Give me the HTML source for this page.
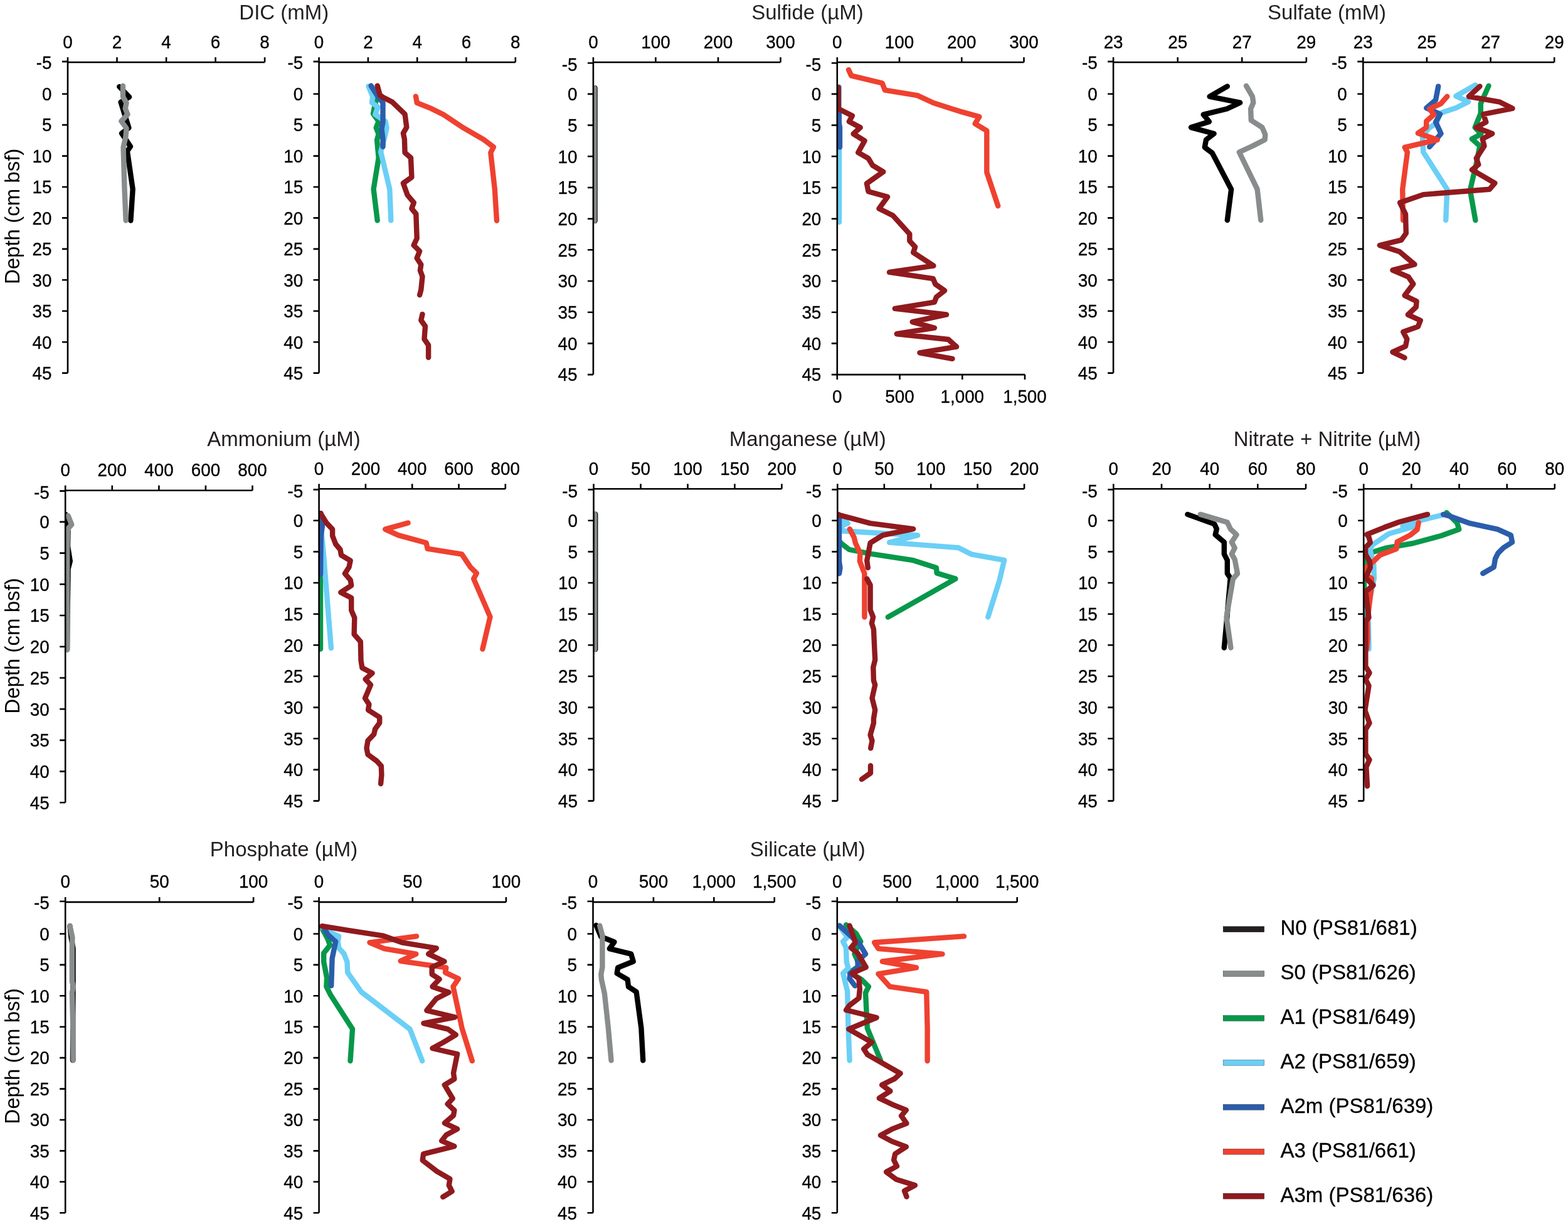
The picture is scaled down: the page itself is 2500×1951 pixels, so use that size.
<!DOCTYPE html><html><head><meta charset="utf-8"><title>Porewater profiles</title><style>html,body{margin:0;padding:0;background:#fff;}svg{display:block;}</style></head><body><svg xmlns="http://www.w3.org/2000/svg" width="2500" height="1951" viewBox="0 0 2500 1951">
<rect width="100%" height="100%" fill="#fff"/>
<g font-family="Liberation Sans, Arial, sans-serif" font-size="33" fill="#231f20" text-anchor="middle">
<text transform="translate(452.8 31.3) scale(1 1.02)">DIC (mM)</text>
<text transform="translate(1287.5 31.3) scale(1 1.02)">Sulfide (µM)</text>
<text transform="translate(2115.5 31.3) scale(1 1.02)">Sulfate (mM)</text>
<text transform="translate(452.5 710.8) scale(1 1.02)">Ammonium (µM)</text>
<text transform="translate(1287.8 710.8) scale(1 1.02)">Manganese (µM)</text>
<text transform="translate(2116.0 710.8) scale(1 1.02)">Nitrate + Nitrite (µM)</text>
<text transform="translate(452.5 1364.8) scale(1 1.02)">Phosphate (µM)</text>
<text transform="translate(1287.8 1364.8) scale(1 1.02)">Silicate (µM)</text>
</g>
<g font-family="Liberation Sans, Arial, sans-serif" font-size="33" fill="#000" text-anchor="middle">
<text transform="translate(31.1 344.9) rotate(-90)" x="0" y="0">Depth (cm bsf)</text>
<text transform="translate(31.1 1029.5) rotate(-90)" x="0" y="0">Depth (cm bsf)</text>
<text transform="translate(31.1 1683.5) rotate(-90)" x="0" y="0">Depth (cm bsf)</text>
</g>
<defs>
<clipPath id="cP1"><rect x="108" y="0" width="2392" height="1951"/></clipPath>
<clipPath id="cP2"><rect x="508.6" y="0" width="1991.4" height="1951"/></clipPath>
<clipPath id="cP3"><rect x="945.9" y="0" width="1554.1" height="1951"/></clipPath>
<clipPath id="cP4"><rect x="1334.8" y="0" width="1165.2" height="1951"/></clipPath>
<clipPath id="cP5"><rect x="1775.1" y="0" width="724.9" height="1951"/></clipPath>
<clipPath id="cP6"><rect x="2173.3" y="0" width="326.7" height="1951"/></clipPath>
<clipPath id="cP7"><rect x="104.2" y="0" width="2395.8" height="1951"/></clipPath>
<clipPath id="cP8"><rect x="508.6" y="0" width="1991.4" height="1951"/></clipPath>
<clipPath id="cP9"><rect x="946.5" y="0" width="1553.5" height="1951"/></clipPath>
<clipPath id="cP10"><rect x="1335.3" y="0" width="1164.7" height="1951"/></clipPath>
<clipPath id="cP11"><rect x="1775.3" y="0" width="724.7" height="1951"/></clipPath>
<clipPath id="cP12"><rect x="2174.2" y="0" width="325.8" height="1951"/></clipPath>
<clipPath id="cP13"><rect x="104.2" y="0" width="2395.8" height="1951"/></clipPath>
<clipPath id="cP14"><rect x="508.6" y="0" width="1991.4" height="1951"/></clipPath>
<clipPath id="cP15"><rect x="945.5" y="0" width="1554.5" height="1951"/></clipPath>
<clipPath id="cP16"><rect x="1334.8" y="0" width="1165.2" height="1951"/></clipPath>
</defs>
<g clip-path="url(#cP1)" fill="none" stroke-width="8.4" stroke-linejoin="round" stroke-linecap="round">
<polyline points="190.3,138.2 206.1,154.6 192.6,162.8 205.4,203.8 194.1,212.6 208,233.5 202.9,241 211.7,301.6 208.4,351.5" stroke="#000"/>
<polyline points="196,136.9 196,154 201.6,164.1 199.7,172.9 203.5,182.4 193.4,193.1 201.6,204.4 200.4,218.3 196.6,234.7 198.5,300 200.7,351.5" stroke="#888c8d"/>
</g>
<g clip-path="url(#cP2)" fill="none" stroke-width="8.4" stroke-linejoin="round" stroke-linecap="round">
<polyline points="601,155.6 597,170.5 595,181.3 603.7,193.4 599.7,203.6 603.7,213.7 601,223.1 603.7,251.5 595.6,301.4 601.7,351.4" stroke="#07984a"/>
<polyline points="587.5,137.4 594.3,154.3 593,163.7 602.4,170.5 598.3,182.6 614.5,193.4 616.6,203.6 613.2,219.1 607.1,242 621.3,301.4 623.3,351.4" stroke="#6bcff6"/>
<polyline points="591.6,136.7 601,151.6 610.5,163.7 610.5,194.8 608.5,205.6 610.5,221.8 610.5,233.9" stroke="#2b5dab"/>
<polyline points="662.9,153.6 664.8,163.9 687.4,172.9 706.8,182.6 739.1,203.9 771.4,222.6 786.9,234.3 782.3,243.3 788.8,301.4 792,351.7" stroke="#ef4130"/>
<polyline points="601.7,136.7 605.8,151.6 610.5,155 625.3,162.4 645.6,182 648.3,202.9 642.9,212.3 644.9,221.8 645.6,243.4 655,251.5 656.4,282.5 642.9,292 649.6,310.9 659.8,323 656.4,332.5 663.3,341 664.7,379.9 659.6,390.9 669.1,400.4 664.7,411.4 671.3,421.7 669.9,431.2 673.5,440.8 671.3,462 669.1,470.1" stroke="#901a1e"/>
<polyline points="673.5,500.9 671.3,510.5 678,520 676.5,540.5 683.1,550.1 683.1,569.9" stroke="#901a1e"/>
</g>
<g clip-path="url(#cP3)" fill="none" stroke-width="8.4" stroke-linejoin="round" stroke-linecap="round">
<polyline points="948.5,140.2 948.5,352" stroke="#000"/>
<polyline points="947.4,140.2 947.4,352" stroke="#888c8d"/>
</g>
<g clip-path="url(#cP4)" fill="none" stroke-width="8.4" stroke-linejoin="round" stroke-linecap="round">
<polyline points="1338,138.5 1338,354" stroke="#6bcff6"/>
<polyline points="1337.7,178.5 1337.7,196 1339,203 1339,234.6" stroke="#2b5dab"/>
<polyline points="1353,111.3 1357.2,120.6 1406.6,132.5 1410.8,143.6 1462.7,152.1 1488.2,164 1530.8,177.6 1561.4,186.1 1554.6,197.2 1573.3,208.3 1573.3,274.6 1591.2,328.2" stroke="#ef4130"/>
<polyline points="1336.8,139.3 1336.8,173.4 1358.9,184.4 1353.8,193.8 1371.7,203.2 1360.6,213.4 1378.5,224.4 1368.3,243.1 1384.5,252.5 1391.3,263.6 1408.3,273.8 1381.9,292.5 1384.5,305.2 1415.1,313.8 1401.5,332.5 1423.6,343.5 1450.3,373 1450.3,384 1459.1,393.6 1456.2,402.4 1488.4,423.6 1418,433.9 1487.7,444.2 1491.4,453 1506.1,463.2 1492.9,473.5 1489.9,481.6 1426.8,491.8 1509,501.4 1454.7,513.1 1489.9,522.7 1429.8,532.2 1511.9,541 1525.1,552.7 1466.4,562.3 1518.5,571.8" stroke="#901a1e"/>
</g>
<g clip-path="url(#cP5)" fill="none" stroke-width="8.4" stroke-linejoin="round" stroke-linecap="round">
<polyline points="1956.8,137.6 1928.6,153.8 1977.2,163.7 1956.1,173.5 1918.7,182.7 1927.9,193.9 1899,203.1 1935.6,213 1923,222.8 1920.8,234.8 1932.8,243.9 1963.1,301.7 1956.8,351" stroke="#000"/>
<polyline points="1987,136.9 1996.9,153.8 1998.3,163.7 1994.1,173.5 1994.8,191.8 2012.4,203.1 2017.3,214.4 2016.6,222.8 1996.9,232.7 1975.8,242.5 2004.6,301.7 2010.3,351" stroke="#888c8d"/>
</g>
<g clip-path="url(#cP6)" fill="none" stroke-width="8.4" stroke-linejoin="round" stroke-linecap="round">
<polyline points="2373.5,136.9 2360.8,165.1 2360.8,180.6 2351.7,203.1 2361.5,213.7 2346.8,221.4 2359.4,232.7 2353.8,260.8 2343.9,303.1 2352.4,351" stroke="#07984a"/>
<polyline points="2352.4,135.5 2321.4,153.1 2341.1,162.3 2321.4,172.1 2296.1,180.6 2290.4,196.1 2277.7,204.5 2267.9,218.6 2269.3,242.5 2307.3,301.7 2305.2,351" stroke="#6bcff6"/>
<polyline points="2293.2,137.6 2289,159.4 2274.2,172.1 2296.1,182 2289,194.6 2297.5,213 2279.2,234.1" stroke="#2b5dab"/>
<polyline points="2307.3,153.8 2297.5,165.1 2279.2,173.5 2286.2,182.7 2274.2,193.2 2274.2,203.1 2260.8,212.3 2291.8,222.8 2239.7,234.8 2243.9,242.5 2236.2,301.7 2237,351" stroke="#ef4130"/>
<polyline points="2359.4,137.6 2341.8,153.8 2390.4,162.3 2411.5,172.8 2365.1,182 2369.3,194.6 2353.8,203.1 2379.2,213 2363.7,221.4 2366.5,232.7 2353.8,252.4 2357.3,262.3 2346.8,270.7 2383.4,291.8 2374.9,301.7 2269.3,310.1 2232,323 2241,341.4 2241.8,371.9 2234.2,382.6 2199.8,391 2231.1,400.9 2255.5,421.5 2220.4,430.6 2245.6,441.3 2253.2,452.7 2239.5,471 2258.6,480.2 2257.8,489.4 2244.8,501.6 2264.7,510.7 2260.9,520.6 2237.2,529 2243.3,540.5 2241,551.9 2220.4,561.1 2239.5,570.2" stroke="#901a1e"/>
</g>
<g clip-path="url(#cP7)" fill="none" stroke-width="8.4" stroke-linejoin="round" stroke-linecap="round">
<polyline points="104.5,820 105.5,834.6 108.5,846.6 108,870.6 111.8,894.5 108.5,907.2 108.5,917 107.5,979 107,1035.4" stroke="#000"/>
<polyline points="108.6,822 114.2,836.1 107.9,843.1 107.2,880.4 107.2,1035.4" stroke="#888c8d"/>
</g>
<g clip-path="url(#cP8)" fill="none" stroke-width="8.4" stroke-linejoin="round" stroke-linecap="round">
<polyline points="511,822 511,1034.5" stroke="#07984a"/>
<polyline points="511,820 512.5,846.7 516.1,886.3 527.9,1033" stroke="#6bcff6"/>
<polyline points="511.7,818.1 513.9,839.3 511.7,854 511,915.6" stroke="#2b5dab"/>
<polyline points="650.6,833.5 614.2,843.6 635.1,853.1 679.6,865.2 681.6,874.7 736.3,883.4 749.8,903.7 759.9,913.8 755.2,922.6 781.5,983.3 769.4,1034.6" stroke="#ef4130"/>
<polyline points="511,818.1 520.5,833.5 530.1,843.7 530.1,854 535.2,867.2 542.5,876 544,884.8 558.7,893.6 556.5,903.9 549.9,914.2 558.7,924.4 560.2,933.2 543.3,944.2 560.2,953 560.2,972.9 565.3,984.6 564.6,1011 574.8,1022.7 575.5,1052.9 577.4,1064.5 593.6,1072.9 582.6,1082.6 591,1091.6 582,1113 588.4,1122.6 587.1,1131.7 605.2,1143.3 605.2,1152.3 598.1,1162 596.2,1170.4 586.5,1180.7 584.5,1192.4 586.5,1202.7 600.7,1213 607.8,1220.8 608.4,1235 607.1,1249.2" stroke="#901a1e"/>
</g>
<g clip-path="url(#cP9)" fill="none" stroke-width="8.4" stroke-linejoin="round" stroke-linecap="round">
<polyline points="949.2,819.8 949.2,1035" stroke="#000"/>
<polyline points="948,819.8 948,1035" stroke="#888c8d"/>
</g>
<g clip-path="url(#cP10)" fill="none" stroke-width="8.4" stroke-linejoin="round" stroke-linecap="round">
<polyline points="1337,820 1337,860 1340.3,865.4 1354,876 1389.1,882.9 1454.7,892.8 1492.9,905 1493.6,913.4 1523.4,922.6 1415.8,983.6" stroke="#07984a"/>
<polyline points="1337,822 1340.3,826.4 1351.7,834.1 1342.5,837.9 1341.8,846.3 1463.1,853.2 1418.1,864.6 1528,873 1549.3,883.7 1601.2,892.8 1593.6,924.9 1575.3,983.6" stroke="#6bcff6"/>
<polyline points="1338,822 1338,895 1339.5,905 1338,914.2" stroke="#2b5dab"/>
<polyline points="1354.8,843.2 1361.6,856.2 1363.9,865.4 1371.5,882.1 1370.8,894.4 1378.4,914.2 1378.4,983.6" stroke="#ef4130"/>
<polyline points="1335.7,820.3 1387.6,834.1 1456.2,843.2 1407.4,853.2 1387.6,865.4 1382.2,893.6 1383.8,905" stroke="#901a1e"/>
<polyline points="1382.2,922.6 1387.6,932.5 1387.6,972.2 1392.1,983.6 1389.9,993.5 1392.9,1002.7 1394.6,1040 1395.2,1051.7 1392.3,1063.5 1392.9,1084.6 1395.2,1091.6 1390.5,1112.8 1395.2,1131.5 1392.9,1145.6 1392.9,1152.7 1387.6,1171.5 1390.5,1180.8 1388.2,1192.6" stroke="#901a1e"/>
<polyline points="1388,1220.5 1388,1232.2 1373.9,1242.1" stroke="#901a1e"/>
</g>
<g clip-path="url(#cP11)" fill="none" stroke-width="8.4" stroke-linejoin="round" stroke-linecap="round">
<polyline points="1893.4,819.9 1936.3,835.4 1939.9,843.1 1937.7,852.3 1951.8,864.2 1951.8,883.2 1956.8,893.1 1956.8,914.2 1961.7,921.3 1956.1,986.1 1951.8,1032.5" stroke="#000"/>
<polyline points="1913.8,819.9 1956.8,832.5 1961.7,843.1 1971.5,852.3 1963.8,864.2 1968.7,873.4 1963.8,883.2 1968.7,891.7 1973,914.2 1965.9,922.7 1955.4,983.9 1962.4,1032.5" stroke="#888c8d"/>
</g>
<g clip-path="url(#cP12)" fill="none" stroke-width="8.4" stroke-linejoin="round" stroke-linecap="round">
<polyline points="2306.4,817.3 2323.2,833.4 2326.2,843.7 2297.6,854 2252.9,866 2209,873.7 2188.1,880.3 2176,893.5 2175,930.9 2175,1034" stroke="#07984a"/>
<polyline points="2299.1,821 2263.9,829.8 2236.4,838.6 2252.9,839.7 2214.5,850.7 2187,869.3 2184.8,878.1 2190.3,900.1 2190.8,922.1 2186,945 2180.5,972 2182,1000 2182.5,1034.5" stroke="#6bcff6"/>
<polyline points="2301.2,819.9 2310.8,822.5 2343.7,834.2 2387.7,843.7 2408.9,853.2 2411.1,864.2 2397.2,873 2388.4,881.8 2384,890.6 2381.8,903.8 2364.2,914" stroke="#2b5dab"/>
<polyline points="2261.7,833.1 2259.5,844.1 2248.5,852.9 2227.6,863.8 2226.5,874.8 2200.2,884.7 2191.4,893.5 2177.1,905.6 2176,915.5 2187,922.1 2185.9,941.9 2184.8,950.7 2180,990 2180.5,1019 2179,1034" stroke="#ef4130"/>
<polyline points="2276,819.9 2230.9,832 2206.8,840.8 2179.3,851.8 2182.6,856.2 2184.8,864.9 2177.1,872.6 2177.1,883.6 2183.7,894.6 2184.8,904.5 2177.1,921 2189.6,932.9 2177.3,943.1 2182.5,984.2 2177.3,990.4 2177.3,1062.3 2183.5,1072.5 2177.3,1082.8 2182.5,1093.1 2176.3,1132.1 2183.5,1152.6 2177.3,1162.9 2177.3,1201.9 2183.5,1211.1 2178.3,1222.4 2180,1253" stroke="#901a1e"/>
</g>
<g clip-path="url(#cP13)" fill="none" stroke-width="8.4" stroke-linejoin="round" stroke-linecap="round">
<polyline points="111.5,1476 113.5,1494 116.5,1512 116.5,1570 116.2,1632 116,1690" stroke="#000"/>
<polyline points="111.5,1476.1 115.5,1494.3 114.9,1509.1 114.9,1564.5 116.9,1572.6 114.9,1582 116.2,1632 116.9,1690" stroke="#888c8d"/>
</g>
<g clip-path="url(#cP14)" fill="none" stroke-width="8.4" stroke-linejoin="round" stroke-linecap="round">
<polyline points="512.7,1478.3 522.5,1496.6 526.1,1506.5 521.8,1512.1 516.2,1519.2 516.2,1533.2 521.1,1558.6 520.4,1572.7 526.8,1585.4 562,1640.3 558.5,1691" stroke="#07984a"/>
<polyline points="514.1,1478.3 527.5,1486.8 540.1,1492.4 538.7,1500.8 540.1,1510.7 548.6,1520.6 553.5,1533.2 554.2,1550.1 576.1,1581.1 653.5,1640.3 673.2,1691" stroke="#6bcff6"/>
<polyline points="515.5,1476.9 522.5,1489.6 535.2,1500.8 529.6,1527.6 528.2,1571.3" stroke="#2b5dab"/>
<polyline points="664.1,1492.4 589.4,1502.3 612.7,1512.1 663.4,1520.6 638.7,1531.8 711.3,1542.4 709.9,1550.1 731,1560 722.5,1572.7 736.6,1638.9 752.8,1691" stroke="#ef4130"/>
<polyline points="513.4,1476.2 556.3,1483.2 611.3,1491.7 640.8,1502.3 695.8,1511.4 683.1,1520.6 708.5,1532.5 688.7,1541.7 688.7,1553 700.7,1560.7 689.4,1572.7 715.5,1581.8 695.8,1591.7 680.3,1610.7 725.4,1621.3 675.4,1631.1 714.1,1640.3 726.8,1649.4 707,1661.4 689.5,1671 729.1,1680.1 723,1710.5 724.4,1719.9 708.8,1729.4 721.7,1751 713.6,1759.8 724.4,1769.9 723,1778 708.8,1790.1 729.1,1799.6 711.5,1809 704.1,1818.5 724.4,1827.2 675.1,1839.4 673.7,1849.5 696.7,1867.1 717.4,1879.2 715.8,1889.4 720.6,1899 706.2,1907.8" stroke="#901a1e"/>
</g>
<g clip-path="url(#cP15)" fill="none" stroke-width="8.4" stroke-linejoin="round" stroke-linecap="round">
<polyline points="950.6,1474.8 958.3,1493.1 979.4,1501.5 971.7,1512.1 1006.2,1520.6 1009.7,1532.5 985.1,1542.4 983.7,1551.5 1000.6,1561.4 1002,1572.7 1014.6,1581.1 1022.4,1638.9 1025.2,1690.3" stroke="#000"/>
<polyline points="956.2,1475.5 960.4,1491 960.4,1541.7 958.3,1553 959,1561.4 963.9,1583.9 969.6,1636.1 974.5,1690.3" stroke="#888c8d"/>
</g>
<g clip-path="url(#cP16)" fill="none" stroke-width="8.4" stroke-linejoin="round" stroke-linecap="round">
<polyline points="1349,1474.1 1365.2,1488.2 1372.3,1500.8 1365.2,1513.5 1362.4,1520.6 1370.8,1538.9 1354.6,1550.1 1373.7,1561.4 1384.9,1572.7 1380,1582.5 1382.8,1638.9 1404,1690" stroke="#07984a"/>
<polyline points="1337.7,1475.5 1351.1,1493.8 1344.1,1500.8 1349,1510.7 1349.7,1533.2 1352.5,1543.1 1344.1,1551.5 1351.1,1579.7 1352.5,1638.9 1354.6,1690.3" stroke="#6bcff6"/>
<polyline points="1338.5,1475.5 1351.1,1486.8 1370.8,1505.1 1380,1520.6 1367.3,1531.8 1368,1541.7 1355.4,1551.5 1354.6,1560 1363.1,1571.3" stroke="#2b5dab"/>
<polyline points="1537,1492.4 1394.1,1502.3 1400.4,1512.1 1502.5,1520.6 1406.8,1532.5 1461,1542.4 1400.4,1552.3 1418.7,1572.7 1477.2,1581.1 1478.6,1638.9 1478.6,1691" stroke="#ef4130"/>
<polyline points="1354.6,1475.5 1363.8,1502.3 1356.8,1510.7 1367.3,1519.2 1380.7,1541.7 1358.2,1551.5 1369.4,1560 1370.8,1576.9 1369.4,1591 1354.6,1602.3 1349,1610 1397.6,1622 1353.2,1640.3 1389.9,1661.4 1377.2,1672 1383.2,1681.2 1435.6,1711 1426.5,1719.4 1406.1,1729.3 1419.4,1739.2 1401.8,1750.4 1422.3,1760.3 1444.8,1769.4 1437,1778.6 1445.5,1790.6 1422.3,1799.7 1403.9,1809.6 1422.3,1819.4 1444.8,1827.9 1427.2,1839.2 1425.1,1849 1430,1858.9 1413.1,1868 1429.3,1880 1458.9,1889.2 1442,1898.3 1445.5,1907.5" stroke="#901a1e"/>
</g>
<path d="M108 91.2V594.6M108 99.2H422.1M99 98.1H108M99 149.7H108M99 199.1H108M99 248.6H108M99 298H108M99 347.4H108M99 396.9H108M99 446.3H108M99 495.7H108M99 545.2H108M99 594.6H108M186.5 91.2V99.2M265.1 91.2V99.2M343.6 91.2V99.2M422.1 91.2V99.2M508.6 91.2V594.6M508.6 99.2H821.8M499.6 98.1H508.6M499.6 149.7H508.6M499.6 199.1H508.6M499.6 248.6H508.6M499.6 298H508.6M499.6 347.4H508.6M499.6 396.9H508.6M499.6 446.3H508.6M499.6 495.7H508.6M499.6 545.2H508.6M499.6 594.6H508.6M586.9 91.2V99.2M665.2 91.2V99.2M743.5 91.2V99.2M821.8 91.2V99.2M945.9 91.3V597.1M945.9 99.3H1244.5M936.9 100.5H945.9M936.9 149.9H945.9M936.9 199.6H945.9M936.9 249.3H945.9M936.9 299H945.9M936.9 348.7H945.9M936.9 398.3H945.9M936.9 448H945.9M936.9 497.7H945.9M936.9 547.4H945.9M936.9 597.1H945.9M1045.4 91.3V99.3M1145 91.3V99.3M1244.5 91.3V99.3M1334.8 91.3V597.1M1334.8 99.3H1632.5M1325.8 100.5H1334.8M1325.8 149.9H1334.8M1325.8 199.6H1334.8M1325.8 249.3H1334.8M1325.8 299H1334.8M1325.8 348.7H1334.8M1325.8 398.3H1334.8M1325.8 448H1334.8M1325.8 497.7H1334.8M1325.8 547.4H1334.8M1325.8 597.1H1334.8M1434 91.3V99.3M1533.3 91.3V99.3M1632.5 91.3V99.3M1334.8 597.1H1634M1334.8 597.1V605.1M1434.5 597.1V605.1M1534.3 597.1V605.1M1634 597.1V605.1M1775.1 91.2V594.6M1775.1 99.2H2082.8M1766.1 98.1H1775.1M1766.1 149.7H1775.1M1766.1 199.1H1775.1M1766.1 248.6H1775.1M1766.1 298H1775.1M1766.1 347.4H1775.1M1766.1 396.9H1775.1M1766.1 446.3H1775.1M1766.1 495.7H1775.1M1766.1 545.2H1775.1M1766.1 594.6H1775.1M1877.7 91.2V99.2M1980.2 91.2V99.2M2082.8 91.2V99.2M2173.3 91.2V594.6M2173.3 99.2H2478.2M2164.3 98.1H2173.3M2164.3 149.7H2173.3M2164.3 199.1H2173.3M2164.3 248.6H2173.3M2164.3 298H2173.3M2164.3 347.4H2173.3M2164.3 396.9H2173.3M2164.3 446.3H2173.3M2164.3 495.7H2173.3M2164.3 545.2H2173.3M2164.3 594.6H2173.3M2274.9 91.2V99.2M2376.6 91.2V99.2M2478.2 91.2V99.2M104.2 773.7V1279.3M104.2 781.7H402.5M95.2 782.6H104.2M95.2 831.9H104.2M95.2 881.6H104.2M95.2 931.3H104.2M95.2 981H104.2M95.2 1030.7H104.2M95.2 1080.5H104.2M95.2 1130.2H104.2M95.2 1179.9H104.2M95.2 1229.6H104.2M95.2 1279.3H104.2M178.8 773.7V781.7M253.4 773.7V781.7M327.9 773.7V781.7M402.5 773.7V781.7M508.6 771.3V1276.6M508.6 779.3H805.8M499.6 780.4H508.6M499.6 829.7H508.6M499.6 879.4H508.6M499.6 929H508.6M499.6 978.7H508.6M499.6 1028.3H508.6M499.6 1078H508.6M499.6 1127.6H508.6M499.6 1177.3H508.6M499.6 1226.9H508.6M499.6 1276.6H508.6M582.9 771.3V779.3M657.2 771.3V779.3M731.5 771.3V779.3M805.8 771.3V779.3M946.5 771.3V1276.6M946.5 779.3H1246.4M937.5 780.4H946.5M937.5 829.7H946.5M937.5 879.4H946.5M937.5 929H946.5M937.5 978.7H946.5M937.5 1028.3H946.5M937.5 1078H946.5M937.5 1127.6H946.5M937.5 1177.3H946.5M937.5 1226.9H946.5M937.5 1276.6H946.5M1021.5 771.3V779.3M1096.5 771.3V779.3M1171.4 771.3V779.3M1246.4 771.3V779.3M1335.3 771.3V1276.6M1335.3 779.3H1633.1M1326.3 780.4H1335.3M1326.3 829.7H1335.3M1326.3 879.4H1335.3M1326.3 929H1335.3M1326.3 978.7H1335.3M1326.3 1028.3H1335.3M1326.3 1078H1335.3M1326.3 1127.6H1335.3M1326.3 1177.3H1335.3M1326.3 1226.9H1335.3M1326.3 1276.6H1335.3M1409.8 771.3V779.3M1484.2 771.3V779.3M1558.6 771.3V779.3M1633.1 771.3V779.3M1775.3 771.3V1276.6M1775.3 779.3H2082M1766.3 780.4H1775.3M1766.3 829.7H1775.3M1766.3 879.4H1775.3M1766.3 929H1775.3M1766.3 978.7H1775.3M1766.3 1028.3H1775.3M1766.3 1078H1775.3M1766.3 1127.6H1775.3M1766.3 1177.3H1775.3M1766.3 1226.9H1775.3M1766.3 1276.6H1775.3M1852 771.3V779.3M1928.7 771.3V779.3M2005.3 771.3V779.3M2082 771.3V779.3M2174.2 771.3V1276.6M2174.2 779.3H2478.8M2165.2 780.4H2174.2M2165.2 829.7H2174.2M2165.2 879.4H2174.2M2165.2 929H2174.2M2165.2 978.7H2174.2M2165.2 1028.3H2174.2M2165.2 1078H2174.2M2165.2 1127.6H2174.2M2165.2 1177.3H2174.2M2165.2 1226.9H2174.2M2165.2 1276.6H2174.2M2250.3 771.3V779.3M2326.5 771.3V779.3M2402.7 771.3V779.3M2478.8 771.3V779.3M104.2 1429.9V1933.2M104.2 1437.9H404.1M95.2 1436.7H104.2M95.2 1488.5H104.2M95.2 1537.9H104.2M95.2 1587.3H104.2M95.2 1636.7H104.2M95.2 1686.1H104.2M95.2 1735.6H104.2M95.2 1785H104.2M95.2 1834.4H104.2M95.2 1883.8H104.2M95.2 1933.2H104.2M254.2 1429.9V1437.9M404.1 1429.9V1437.9M508.6 1429.9V1933.2M508.6 1437.9H806.9M499.6 1436.7H508.6M499.6 1488.5H508.6M499.6 1537.9H508.6M499.6 1587.3H508.6M499.6 1636.7H508.6M499.6 1686.1H508.6M499.6 1735.6H508.6M499.6 1785H508.6M499.6 1834.4H508.6M499.6 1883.8H508.6M499.6 1933.2H508.6M657.8 1429.9V1437.9M806.9 1429.9V1437.9M945.5 1429.9V1933.2M945.5 1437.9H1234.7M936.5 1436.7H945.5M936.5 1488.5H945.5M936.5 1537.9H945.5M936.5 1587.3H945.5M936.5 1636.7H945.5M936.5 1686.1H945.5M936.5 1735.6H945.5M936.5 1785H945.5M936.5 1834.4H945.5M936.5 1883.8H945.5M936.5 1933.2H945.5M1041.9 1429.9V1437.9M1138.3 1429.9V1437.9M1234.7 1429.9V1437.9M1334.8 1429.9V1933.2M1334.8 1437.9H1621.7M1325.8 1436.7H1334.8M1325.8 1488.5H1334.8M1325.8 1537.9H1334.8M1325.8 1587.3H1334.8M1325.8 1636.7H1334.8M1325.8 1686.1H1334.8M1325.8 1735.6H1334.8M1325.8 1785H1334.8M1325.8 1834.4H1334.8M1325.8 1883.8H1334.8M1325.8 1933.2H1334.8M1430.4 1429.9V1437.9M1526.1 1429.9V1437.9M1621.7 1429.9V1437.9" fill="none" stroke="#000" stroke-width="2.6" stroke-linecap="butt"/>
<g font-family="Liberation Sans, Arial, sans-serif" font-size="27.8" fill="#000" stroke="#000" stroke-width="0.3">
<text transform="translate(82.5 110.2) scale(1 1.04)" text-anchor="end">-5</text>
<text transform="translate(82.5 160) scale(1 1.04)" text-anchor="end">0</text>
<text transform="translate(82.5 209.4) scale(1 1.04)" text-anchor="end">5</text>
<text transform="translate(82.5 258.9) scale(1 1.04)" text-anchor="end">10</text>
<text transform="translate(82.5 308.3) scale(1 1.04)" text-anchor="end">15</text>
<text transform="translate(82.5 357.7) scale(1 1.04)" text-anchor="end">20</text>
<text transform="translate(82.5 407.2) scale(1 1.04)" text-anchor="end">25</text>
<text transform="translate(82.5 456.6) scale(1 1.04)" text-anchor="end">30</text>
<text transform="translate(82.5 506) scale(1 1.04)" text-anchor="end">35</text>
<text transform="translate(82.5 555.5) scale(1 1.04)" text-anchor="end">40</text>
<text transform="translate(82.5 604.9) scale(1 1.04)" text-anchor="end">45</text>
<text transform="translate(108 76.7) scale(1 1.04)" text-anchor="middle">0</text>
<text transform="translate(186.5 76.7) scale(1 1.04)" text-anchor="middle">2</text>
<text transform="translate(265.1 76.7) scale(1 1.04)" text-anchor="middle">4</text>
<text transform="translate(343.6 76.7) scale(1 1.04)" text-anchor="middle">6</text>
<text transform="translate(422.1 76.7) scale(1 1.04)" text-anchor="middle">8</text>
<text transform="translate(483.1 110.2) scale(1 1.04)" text-anchor="end">-5</text>
<text transform="translate(483.1 160) scale(1 1.04)" text-anchor="end">0</text>
<text transform="translate(483.1 209.4) scale(1 1.04)" text-anchor="end">5</text>
<text transform="translate(483.1 258.9) scale(1 1.04)" text-anchor="end">10</text>
<text transform="translate(483.1 308.3) scale(1 1.04)" text-anchor="end">15</text>
<text transform="translate(483.1 357.7) scale(1 1.04)" text-anchor="end">20</text>
<text transform="translate(483.1 407.2) scale(1 1.04)" text-anchor="end">25</text>
<text transform="translate(483.1 456.6) scale(1 1.04)" text-anchor="end">30</text>
<text transform="translate(483.1 506) scale(1 1.04)" text-anchor="end">35</text>
<text transform="translate(483.1 555.5) scale(1 1.04)" text-anchor="end">40</text>
<text transform="translate(483.1 604.9) scale(1 1.04)" text-anchor="end">45</text>
<text transform="translate(508.6 76.7) scale(1 1.04)" text-anchor="middle">0</text>
<text transform="translate(586.9 76.7) scale(1 1.04)" text-anchor="middle">2</text>
<text transform="translate(665.2 76.7) scale(1 1.04)" text-anchor="middle">4</text>
<text transform="translate(743.5 76.7) scale(1 1.04)" text-anchor="middle">6</text>
<text transform="translate(821.8 76.7) scale(1 1.04)" text-anchor="middle">8</text>
<text transform="translate(920.4 112.6) scale(1 1.04)" text-anchor="end">-5</text>
<text transform="translate(920.4 160.2) scale(1 1.04)" text-anchor="end">0</text>
<text transform="translate(920.4 209.9) scale(1 1.04)" text-anchor="end">5</text>
<text transform="translate(920.4 259.6) scale(1 1.04)" text-anchor="end">10</text>
<text transform="translate(920.4 309.3) scale(1 1.04)" text-anchor="end">15</text>
<text transform="translate(920.4 359) scale(1 1.04)" text-anchor="end">20</text>
<text transform="translate(920.4 408.6) scale(1 1.04)" text-anchor="end">25</text>
<text transform="translate(920.4 458.3) scale(1 1.04)" text-anchor="end">30</text>
<text transform="translate(920.4 508) scale(1 1.04)" text-anchor="end">35</text>
<text transform="translate(920.4 557.7) scale(1 1.04)" text-anchor="end">40</text>
<text transform="translate(920.4 607.4) scale(1 1.04)" text-anchor="end">45</text>
<text transform="translate(945.9 76.8) scale(1 1.04)" text-anchor="middle">0</text>
<text transform="translate(1045.4 76.8) scale(1 1.04)" text-anchor="middle">100</text>
<text transform="translate(1145 76.8) scale(1 1.04)" text-anchor="middle">200</text>
<text transform="translate(1244.5 76.8) scale(1 1.04)" text-anchor="middle">300</text>
<text transform="translate(1309.3 112.6) scale(1 1.04)" text-anchor="end">-5</text>
<text transform="translate(1309.3 160.2) scale(1 1.04)" text-anchor="end">0</text>
<text transform="translate(1309.3 209.9) scale(1 1.04)" text-anchor="end">5</text>
<text transform="translate(1309.3 259.6) scale(1 1.04)" text-anchor="end">10</text>
<text transform="translate(1309.3 309.3) scale(1 1.04)" text-anchor="end">15</text>
<text transform="translate(1309.3 359) scale(1 1.04)" text-anchor="end">20</text>
<text transform="translate(1309.3 408.6) scale(1 1.04)" text-anchor="end">25</text>
<text transform="translate(1309.3 458.3) scale(1 1.04)" text-anchor="end">30</text>
<text transform="translate(1309.3 508) scale(1 1.04)" text-anchor="end">35</text>
<text transform="translate(1309.3 557.7) scale(1 1.04)" text-anchor="end">40</text>
<text transform="translate(1309.3 607.4) scale(1 1.04)" text-anchor="end">45</text>
<text transform="translate(1334.8 76.8) scale(1 1.04)" text-anchor="middle">0</text>
<text transform="translate(1434 76.8) scale(1 1.04)" text-anchor="middle">100</text>
<text transform="translate(1533.3 76.8) scale(1 1.04)" text-anchor="middle">200</text>
<text transform="translate(1632.5 76.8) scale(1 1.04)" text-anchor="middle">300</text>
<text transform="translate(1334.8 641.6) scale(1 1.04)" text-anchor="middle">0</text>
<text transform="translate(1434.5 641.6) scale(1 1.04)" text-anchor="middle">500</text>
<text transform="translate(1534.3 641.6) scale(1 1.04)" text-anchor="middle">1,000</text>
<text transform="translate(1634 641.6) scale(1 1.04)" text-anchor="middle">1,500</text>
<text transform="translate(1749.6 110.2) scale(1 1.04)" text-anchor="end">-5</text>
<text transform="translate(1749.6 160) scale(1 1.04)" text-anchor="end">0</text>
<text transform="translate(1749.6 209.4) scale(1 1.04)" text-anchor="end">5</text>
<text transform="translate(1749.6 258.9) scale(1 1.04)" text-anchor="end">10</text>
<text transform="translate(1749.6 308.3) scale(1 1.04)" text-anchor="end">15</text>
<text transform="translate(1749.6 357.7) scale(1 1.04)" text-anchor="end">20</text>
<text transform="translate(1749.6 407.2) scale(1 1.04)" text-anchor="end">25</text>
<text transform="translate(1749.6 456.6) scale(1 1.04)" text-anchor="end">30</text>
<text transform="translate(1749.6 506) scale(1 1.04)" text-anchor="end">35</text>
<text transform="translate(1749.6 555.5) scale(1 1.04)" text-anchor="end">40</text>
<text transform="translate(1749.6 604.9) scale(1 1.04)" text-anchor="end">45</text>
<text transform="translate(1775.1 76.7) scale(1 1.04)" text-anchor="middle">23</text>
<text transform="translate(1877.7 76.7) scale(1 1.04)" text-anchor="middle">25</text>
<text transform="translate(1980.2 76.7) scale(1 1.04)" text-anchor="middle">27</text>
<text transform="translate(2082.8 76.7) scale(1 1.04)" text-anchor="middle">29</text>
<text transform="translate(2147.8 110.2) scale(1 1.04)" text-anchor="end">-5</text>
<text transform="translate(2147.8 160) scale(1 1.04)" text-anchor="end">0</text>
<text transform="translate(2147.8 209.4) scale(1 1.04)" text-anchor="end">5</text>
<text transform="translate(2147.8 258.9) scale(1 1.04)" text-anchor="end">10</text>
<text transform="translate(2147.8 308.3) scale(1 1.04)" text-anchor="end">15</text>
<text transform="translate(2147.8 357.7) scale(1 1.04)" text-anchor="end">20</text>
<text transform="translate(2147.8 407.2) scale(1 1.04)" text-anchor="end">25</text>
<text transform="translate(2147.8 456.6) scale(1 1.04)" text-anchor="end">30</text>
<text transform="translate(2147.8 506) scale(1 1.04)" text-anchor="end">35</text>
<text transform="translate(2147.8 555.5) scale(1 1.04)" text-anchor="end">40</text>
<text transform="translate(2147.8 604.9) scale(1 1.04)" text-anchor="end">45</text>
<text transform="translate(2173.3 76.7) scale(1 1.04)" text-anchor="middle">23</text>
<text transform="translate(2274.9 76.7) scale(1 1.04)" text-anchor="middle">25</text>
<text transform="translate(2376.6 76.7) scale(1 1.04)" text-anchor="middle">27</text>
<text transform="translate(2478.2 76.7) scale(1 1.04)" text-anchor="middle">29</text>
<text transform="translate(78.7 794.7) scale(1 1.04)" text-anchor="end">-5</text>
<text transform="translate(78.7 842.2) scale(1 1.04)" text-anchor="end">0</text>
<text transform="translate(78.7 891.9) scale(1 1.04)" text-anchor="end">5</text>
<text transform="translate(78.7 941.6) scale(1 1.04)" text-anchor="end">10</text>
<text transform="translate(78.7 991.3) scale(1 1.04)" text-anchor="end">15</text>
<text transform="translate(78.7 1041) scale(1 1.04)" text-anchor="end">20</text>
<text transform="translate(78.7 1090.8) scale(1 1.04)" text-anchor="end">25</text>
<text transform="translate(78.7 1140.5) scale(1 1.04)" text-anchor="end">30</text>
<text transform="translate(78.7 1190.2) scale(1 1.04)" text-anchor="end">35</text>
<text transform="translate(78.7 1239.9) scale(1 1.04)" text-anchor="end">40</text>
<text transform="translate(78.7 1289.6) scale(1 1.04)" text-anchor="end">45</text>
<text transform="translate(104.2 759.2) scale(1 1.04)" text-anchor="middle">0</text>
<text transform="translate(178.8 759.2) scale(1 1.04)" text-anchor="middle">200</text>
<text transform="translate(253.4 759.2) scale(1 1.04)" text-anchor="middle">400</text>
<text transform="translate(327.9 759.2) scale(1 1.04)" text-anchor="middle">600</text>
<text transform="translate(402.5 759.2) scale(1 1.04)" text-anchor="middle">800</text>
<text transform="translate(483.1 792.5) scale(1 1.04)" text-anchor="end">-5</text>
<text transform="translate(483.1 840) scale(1 1.04)" text-anchor="end">0</text>
<text transform="translate(483.1 889.7) scale(1 1.04)" text-anchor="end">5</text>
<text transform="translate(483.1 939.3) scale(1 1.04)" text-anchor="end">10</text>
<text transform="translate(483.1 989) scale(1 1.04)" text-anchor="end">15</text>
<text transform="translate(483.1 1038.6) scale(1 1.04)" text-anchor="end">20</text>
<text transform="translate(483.1 1088.3) scale(1 1.04)" text-anchor="end">25</text>
<text transform="translate(483.1 1137.9) scale(1 1.04)" text-anchor="end">30</text>
<text transform="translate(483.1 1187.6) scale(1 1.04)" text-anchor="end">35</text>
<text transform="translate(483.1 1237.2) scale(1 1.04)" text-anchor="end">40</text>
<text transform="translate(483.1 1286.9) scale(1 1.04)" text-anchor="end">45</text>
<text transform="translate(508.6 756.8) scale(1 1.04)" text-anchor="middle">0</text>
<text transform="translate(582.9 756.8) scale(1 1.04)" text-anchor="middle">200</text>
<text transform="translate(657.2 756.8) scale(1 1.04)" text-anchor="middle">400</text>
<text transform="translate(731.5 756.8) scale(1 1.04)" text-anchor="middle">600</text>
<text transform="translate(805.8 756.8) scale(1 1.04)" text-anchor="middle">800</text>
<text transform="translate(921 792.5) scale(1 1.04)" text-anchor="end">-5</text>
<text transform="translate(921 840) scale(1 1.04)" text-anchor="end">0</text>
<text transform="translate(921 889.7) scale(1 1.04)" text-anchor="end">5</text>
<text transform="translate(921 939.3) scale(1 1.04)" text-anchor="end">10</text>
<text transform="translate(921 989) scale(1 1.04)" text-anchor="end">15</text>
<text transform="translate(921 1038.6) scale(1 1.04)" text-anchor="end">20</text>
<text transform="translate(921 1088.3) scale(1 1.04)" text-anchor="end">25</text>
<text transform="translate(921 1137.9) scale(1 1.04)" text-anchor="end">30</text>
<text transform="translate(921 1187.6) scale(1 1.04)" text-anchor="end">35</text>
<text transform="translate(921 1237.2) scale(1 1.04)" text-anchor="end">40</text>
<text transform="translate(921 1286.9) scale(1 1.04)" text-anchor="end">45</text>
<text transform="translate(946.5 756.8) scale(1 1.04)" text-anchor="middle">0</text>
<text transform="translate(1021.5 756.8) scale(1 1.04)" text-anchor="middle">50</text>
<text transform="translate(1096.5 756.8) scale(1 1.04)" text-anchor="middle">100</text>
<text transform="translate(1171.4 756.8) scale(1 1.04)" text-anchor="middle">150</text>
<text transform="translate(1246.4 756.8) scale(1 1.04)" text-anchor="middle">200</text>
<text transform="translate(1309.8 792.5) scale(1 1.04)" text-anchor="end">-5</text>
<text transform="translate(1309.8 840) scale(1 1.04)" text-anchor="end">0</text>
<text transform="translate(1309.8 889.7) scale(1 1.04)" text-anchor="end">5</text>
<text transform="translate(1309.8 939.3) scale(1 1.04)" text-anchor="end">10</text>
<text transform="translate(1309.8 989) scale(1 1.04)" text-anchor="end">15</text>
<text transform="translate(1309.8 1038.6) scale(1 1.04)" text-anchor="end">20</text>
<text transform="translate(1309.8 1088.3) scale(1 1.04)" text-anchor="end">25</text>
<text transform="translate(1309.8 1137.9) scale(1 1.04)" text-anchor="end">30</text>
<text transform="translate(1309.8 1187.6) scale(1 1.04)" text-anchor="end">35</text>
<text transform="translate(1309.8 1237.2) scale(1 1.04)" text-anchor="end">40</text>
<text transform="translate(1309.8 1286.9) scale(1 1.04)" text-anchor="end">45</text>
<text transform="translate(1335.3 756.8) scale(1 1.04)" text-anchor="middle">0</text>
<text transform="translate(1409.8 756.8) scale(1 1.04)" text-anchor="middle">50</text>
<text transform="translate(1484.2 756.8) scale(1 1.04)" text-anchor="middle">100</text>
<text transform="translate(1558.6 756.8) scale(1 1.04)" text-anchor="middle">150</text>
<text transform="translate(1633.1 756.8) scale(1 1.04)" text-anchor="middle">200</text>
<text transform="translate(1749.8 792.5) scale(1 1.04)" text-anchor="end">-5</text>
<text transform="translate(1749.8 840) scale(1 1.04)" text-anchor="end">0</text>
<text transform="translate(1749.8 889.7) scale(1 1.04)" text-anchor="end">5</text>
<text transform="translate(1749.8 939.3) scale(1 1.04)" text-anchor="end">10</text>
<text transform="translate(1749.8 989) scale(1 1.04)" text-anchor="end">15</text>
<text transform="translate(1749.8 1038.6) scale(1 1.04)" text-anchor="end">20</text>
<text transform="translate(1749.8 1088.3) scale(1 1.04)" text-anchor="end">25</text>
<text transform="translate(1749.8 1137.9) scale(1 1.04)" text-anchor="end">30</text>
<text transform="translate(1749.8 1187.6) scale(1 1.04)" text-anchor="end">35</text>
<text transform="translate(1749.8 1237.2) scale(1 1.04)" text-anchor="end">40</text>
<text transform="translate(1749.8 1286.9) scale(1 1.04)" text-anchor="end">45</text>
<text transform="translate(1775.3 756.8) scale(1 1.04)" text-anchor="middle">0</text>
<text transform="translate(1852 756.8) scale(1 1.04)" text-anchor="middle">20</text>
<text transform="translate(1928.7 756.8) scale(1 1.04)" text-anchor="middle">40</text>
<text transform="translate(2005.3 756.8) scale(1 1.04)" text-anchor="middle">60</text>
<text transform="translate(2082 756.8) scale(1 1.04)" text-anchor="middle">80</text>
<text transform="translate(2148.7 792.5) scale(1 1.04)" text-anchor="end">-5</text>
<text transform="translate(2148.7 840) scale(1 1.04)" text-anchor="end">0</text>
<text transform="translate(2148.7 889.7) scale(1 1.04)" text-anchor="end">5</text>
<text transform="translate(2148.7 939.3) scale(1 1.04)" text-anchor="end">10</text>
<text transform="translate(2148.7 989) scale(1 1.04)" text-anchor="end">15</text>
<text transform="translate(2148.7 1038.6) scale(1 1.04)" text-anchor="end">20</text>
<text transform="translate(2148.7 1088.3) scale(1 1.04)" text-anchor="end">25</text>
<text transform="translate(2148.7 1137.9) scale(1 1.04)" text-anchor="end">30</text>
<text transform="translate(2148.7 1187.6) scale(1 1.04)" text-anchor="end">35</text>
<text transform="translate(2148.7 1237.2) scale(1 1.04)" text-anchor="end">40</text>
<text transform="translate(2148.7 1286.9) scale(1 1.04)" text-anchor="end">45</text>
<text transform="translate(2174.2 756.8) scale(1 1.04)" text-anchor="middle">0</text>
<text transform="translate(2250.3 756.8) scale(1 1.04)" text-anchor="middle">20</text>
<text transform="translate(2326.5 756.8) scale(1 1.04)" text-anchor="middle">40</text>
<text transform="translate(2402.7 756.8) scale(1 1.04)" text-anchor="middle">60</text>
<text transform="translate(2478.8 756.8) scale(1 1.04)" text-anchor="middle">80</text>
<text transform="translate(78.7 1448.8) scale(1 1.04)" text-anchor="end">-5</text>
<text transform="translate(78.7 1498.8) scale(1 1.04)" text-anchor="end">0</text>
<text transform="translate(78.7 1548.2) scale(1 1.04)" text-anchor="end">5</text>
<text transform="translate(78.7 1597.6) scale(1 1.04)" text-anchor="end">10</text>
<text transform="translate(78.7 1647) scale(1 1.04)" text-anchor="end">15</text>
<text transform="translate(78.7 1696.4) scale(1 1.04)" text-anchor="end">20</text>
<text transform="translate(78.7 1745.9) scale(1 1.04)" text-anchor="end">25</text>
<text transform="translate(78.7 1795.3) scale(1 1.04)" text-anchor="end">30</text>
<text transform="translate(78.7 1844.7) scale(1 1.04)" text-anchor="end">35</text>
<text transform="translate(78.7 1894.1) scale(1 1.04)" text-anchor="end">40</text>
<text transform="translate(78.7 1943.5) scale(1 1.04)" text-anchor="end">45</text>
<text transform="translate(104.2 1415.4) scale(1 1.04)" text-anchor="middle">0</text>
<text transform="translate(254.2 1415.4) scale(1 1.04)" text-anchor="middle">50</text>
<text transform="translate(404.1 1415.4) scale(1 1.04)" text-anchor="middle">100</text>
<text transform="translate(483.1 1448.8) scale(1 1.04)" text-anchor="end">-5</text>
<text transform="translate(483.1 1498.8) scale(1 1.04)" text-anchor="end">0</text>
<text transform="translate(483.1 1548.2) scale(1 1.04)" text-anchor="end">5</text>
<text transform="translate(483.1 1597.6) scale(1 1.04)" text-anchor="end">10</text>
<text transform="translate(483.1 1647) scale(1 1.04)" text-anchor="end">15</text>
<text transform="translate(483.1 1696.4) scale(1 1.04)" text-anchor="end">20</text>
<text transform="translate(483.1 1745.9) scale(1 1.04)" text-anchor="end">25</text>
<text transform="translate(483.1 1795.3) scale(1 1.04)" text-anchor="end">30</text>
<text transform="translate(483.1 1844.7) scale(1 1.04)" text-anchor="end">35</text>
<text transform="translate(483.1 1894.1) scale(1 1.04)" text-anchor="end">40</text>
<text transform="translate(483.1 1943.5) scale(1 1.04)" text-anchor="end">45</text>
<text transform="translate(508.6 1415.4) scale(1 1.04)" text-anchor="middle">0</text>
<text transform="translate(657.8 1415.4) scale(1 1.04)" text-anchor="middle">50</text>
<text transform="translate(806.9 1415.4) scale(1 1.04)" text-anchor="middle">100</text>
<text transform="translate(920 1448.8) scale(1 1.04)" text-anchor="end">-5</text>
<text transform="translate(920 1498.8) scale(1 1.04)" text-anchor="end">0</text>
<text transform="translate(920 1548.2) scale(1 1.04)" text-anchor="end">5</text>
<text transform="translate(920 1597.6) scale(1 1.04)" text-anchor="end">10</text>
<text transform="translate(920 1647) scale(1 1.04)" text-anchor="end">15</text>
<text transform="translate(920 1696.4) scale(1 1.04)" text-anchor="end">20</text>
<text transform="translate(920 1745.9) scale(1 1.04)" text-anchor="end">25</text>
<text transform="translate(920 1795.3) scale(1 1.04)" text-anchor="end">30</text>
<text transform="translate(920 1844.7) scale(1 1.04)" text-anchor="end">35</text>
<text transform="translate(920 1894.1) scale(1 1.04)" text-anchor="end">40</text>
<text transform="translate(920 1943.5) scale(1 1.04)" text-anchor="end">45</text>
<text transform="translate(945.5 1415.4) scale(1 1.04)" text-anchor="middle">0</text>
<text transform="translate(1041.9 1415.4) scale(1 1.04)" text-anchor="middle">500</text>
<text transform="translate(1138.3 1415.4) scale(1 1.04)" text-anchor="middle">1,000</text>
<text transform="translate(1234.7 1415.4) scale(1 1.04)" text-anchor="middle">1,500</text>
<text transform="translate(1309.3 1448.8) scale(1 1.04)" text-anchor="end">-5</text>
<text transform="translate(1309.3 1498.8) scale(1 1.04)" text-anchor="end">0</text>
<text transform="translate(1309.3 1548.2) scale(1 1.04)" text-anchor="end">5</text>
<text transform="translate(1309.3 1597.6) scale(1 1.04)" text-anchor="end">10</text>
<text transform="translate(1309.3 1647) scale(1 1.04)" text-anchor="end">15</text>
<text transform="translate(1309.3 1696.4) scale(1 1.04)" text-anchor="end">20</text>
<text transform="translate(1309.3 1745.9) scale(1 1.04)" text-anchor="end">25</text>
<text transform="translate(1309.3 1795.3) scale(1 1.04)" text-anchor="end">30</text>
<text transform="translate(1309.3 1844.7) scale(1 1.04)" text-anchor="end">35</text>
<text transform="translate(1309.3 1894.1) scale(1 1.04)" text-anchor="end">40</text>
<text transform="translate(1309.3 1943.5) scale(1 1.04)" text-anchor="end">45</text>
<text transform="translate(1334.8 1415.4) scale(1 1.04)" text-anchor="middle">0</text>
<text transform="translate(1430.4 1415.4) scale(1 1.04)" text-anchor="middle">500</text>
<text transform="translate(1526.1 1415.4) scale(1 1.04)" text-anchor="middle">1,000</text>
<text transform="translate(1621.7 1415.4) scale(1 1.04)" text-anchor="middle">1,500</text>
</g>
<g font-family="Liberation Sans, Arial, sans-serif" font-size="33" fill="#000" stroke="#000" stroke-width="0.3">
<rect x="1950.1" y="1476.7" width="65.6" height="9" fill="#231f20"/>
<text transform="translate(2041.4 1490.4) scale(1 1.035)">N0 (PS81/681)</text>
<rect x="1950.1" y="1547.6" width="65.6" height="9" fill="#888c8d"/>
<text transform="translate(2041.4 1561.3) scale(1 1.035)">S0 (PS81/626)</text>
<rect x="1950.1" y="1618.5" width="65.6" height="9" fill="#07984a"/>
<text transform="translate(2041.4 1632.2) scale(1 1.035)">A1 (PS81/649)</text>
<rect x="1950.1" y="1689.4" width="65.6" height="9" fill="#6bcff6"/>
<text transform="translate(2041.4 1703.1) scale(1 1.035)">A2 (PS81/659)</text>
<rect x="1950.1" y="1760.3" width="65.6" height="9" fill="#2b5dab"/>
<text transform="translate(2041.4 1774) scale(1 1.035)">A2m (PS81/639)</text>
<rect x="1950.1" y="1831.2" width="65.6" height="9" fill="#ef4130"/>
<text transform="translate(2041.4 1844.9) scale(1 1.035)">A3 (PS81/661)</text>
<rect x="1950.1" y="1902.1" width="65.6" height="9" fill="#901a1e"/>
<text transform="translate(2041.4 1915.8) scale(1 1.035)">A3m (PS81/636)</text>
</g>
</svg></body></html>
